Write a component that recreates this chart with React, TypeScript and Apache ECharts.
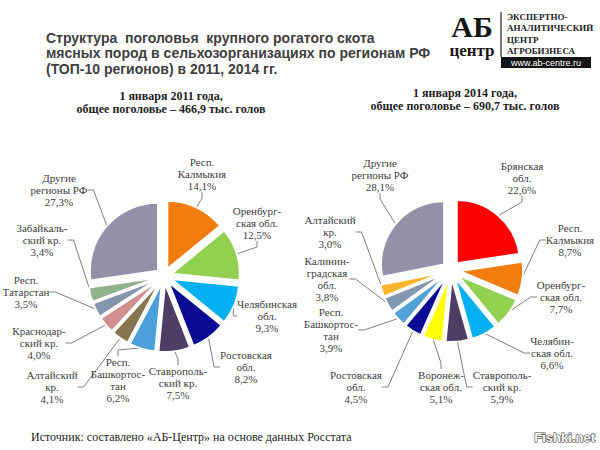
import React, { useEffect, useRef } from "react";
import * as echarts from "echarts";

// ---- Data ----
const leftNames = [
  "Респ.\nКалмыкия",
  "Оренбург-\nская обл.",
  "Челябинская\nобл.",
  "Ростовская\nобл.",
  "Ставрополь-\nский кр.",
  "Респ.\nБашкортос-\nтан",
  "Алтайский\nкр.",
  "Краснодар-\nский кр.",
  "Респ.\nТатарстан",
  "Забайкаль-\nский кр.",
  "Другие\nрегионы РФ",
];
const leftValues = [14.1, 12.5, 9.3, 8.2, 7.5, 6.2, 4.1, 4.0, 3.5, 3.4, 27.3];

const rightNames = [
  "Брянская\nобл.",
  "Респ.\nКалмыкия",
  "Оренбург-\nская обл.",
  "Челябин-\nская обл.",
  "Ставрополь-\nский кр.",
  "Воронеж-\nская обл.",
  "Ростовская\nобл.",
  "Респ.\nБашкортос-\nтан",
  "Калинин-\nградская\nобл.",
  "Алтайский\nкр.",
  "Другие\nрегионы РФ",
];
const rightValues = [22.6, 8.7, 7.7, 6.6, 5.9, 5.1, 4.5, 3.9, 3.8, 3.0, 28.1];

// ---- Styles ----
const leftColors = [
  "#F07D0E", "#92D050", "#00B0F0", "#0A0A94", "#4E3E66", "#4B9FDB",
  "#857650", "#D09090", "#8496AE", "#92B08C", "#958FA8",
];
const rightColors = [
  "#FF0000", "#F07D0E", "#92D050", "#00B0F0", "#4E3E66", "#FFFF00",
  "#0A0A94", "#54A3D8", "#8497B0", "#F8B52A", "#958FA8",
];

const leftLabelPos = [
  [202, 174], [257, 223], [267, 316], [246, 367], [178, 383], [118, 380],
  [52, 387], [39, 343], [26, 292], [42, 240], [59, 190],
];
const rightLabelPos = [
  [522, 178], [570, 240], [561, 297], [552, 353], [502, 387], [441, 387],
  [356, 387], [331, 330], [327, 279], [330, 232], [380, 175],
];

const SERIF = '"Liberation Serif", "Times New Roman", serif';
const SANS = '"Liberation Sans", Arial, sans-serif';

function fmt(v: number) {
  return v.toFixed(1).replace(".", ",") + "%";
}

function makePie(
  names: string[],
  values: number[],
  colors: string[],
  center: number[],
  radius: number,
  offset: number
) {
  return {
    type: "pie",
    center,
    radius,
    startAngle: 90,
    clockwise: true,
    selectedMode: "multiple",
    selectedOffset: offset,
    silent: true,
    data: names.map((n, i) => ({
      name: n,
      value: values[i],
      selected: true,
      itemStyle: { color: colors[i] },
    })),
    itemStyle: { borderColor: "#ffffff", borderWidth: 1.8 },
    select: { itemStyle: { borderColor: "#ffffff", borderWidth: 1.8 } },
    emphasis: { disabled: true },
    label: { show: false },
    labelLine: { show: false },
  };
}

function makeLabelPie(
  names: string[],
  values: number[],
  labelPos: number[][],
  center: number[],
  radius: number
) {
  return {
    type: "pie",
    center,
    radius,
    startAngle: 90,
    clockwise: true,
    silent: true,
    avoidLabelOverlap: false,
    data: names.map((n, i) => ({ name: n, value: values[i] })),
    itemStyle: { color: "rgba(0,0,0,0)", borderWidth: 0 },
    emphasis: { disabled: true },
    label: {
      show: true,
      formatter: (p: any) => `${p.name}\n${fmt(p.value)}`,
      fontFamily: SERIF,
      fontSize: 11,
      lineHeight: 12,
      color: "#404040",
      align: "center",
    },
    labelLine: {
      show: true,
      length: 8,
      length2: 6,
      lineStyle: { color: "#7f7f7f", width: 1 },
    },
    labelLayout: (p: any) => ({
      x: labelPos[p.dataIndex][0],
      y: labelPos[p.dataIndex][1],
      align: "center",
      verticalAlign: "middle",
    }),
  };
}

export default function App() {
  const ref = useRef<HTMLDivElement>(null);
  useEffect(() => {
    if (!ref.current) return;
    const chart = echarts.init(ref.current, null, { renderer: "svg" });
    chart.setOption({
      animation: false,
      backgroundColor: "#ffffff",
      graphic: [
        {
          type: "text",
          x: 46,
          y: 30,
          style: {
            text:
              "Структура  поголовья  крупного рогатого скота\nмясных пород в сельхозорганизациях по регионам РФ\n(ТОП-10 регионов) в 2011, 2014 гг.",
            font: `bold 14px ${SANS}`,
            fill: "#404040",
            lineHeight: 15.5,
            textVerticalAlign: "top",
          },
        },
        {
          type: "text",
          x: 171,
          y: 90,
          style: {
            text: "1 января 2011 года,\nобщее поголовье – 466,9 тыс. голов",
            font: `bold 12px ${SERIF}`,
            fill: "#1e1e1e",
            lineHeight: 12.5,
            textAlign: "center",
            textVerticalAlign: "top",
          },
        },
        {
          type: "text",
          x: 465,
          y: 87,
          style: {
            text: "1 января 2014 года,\nобщее поголовье – 690,7 тыс. голов",
            font: `bold 12px ${SERIF}`,
            fill: "#1e1e1e",
            lineHeight: 12.5,
            textAlign: "center",
            textVerticalAlign: "top",
          },
        },
        // logo
        {
          type: "text",
          x: 472,
          y: 26,
          style: {
            text: "АБ",
            font: `bold 30px ${SERIF}`,
            fill: "#151515",
            textAlign: "center",
            textVerticalAlign: "middle",
          },
        },
        {
          type: "text",
          x: 472,
          y: 50,
          style: {
            text: "центр",
            font: `bold 17px ${SERIF}`,
            fill: "#151515",
            textAlign: "center",
            textVerticalAlign: "middle",
          },
        },
        {
          type: "line",
          shape: { x1: 501, y1: 12, x2: 501, y2: 57 },
          style: { stroke: "#222", lineWidth: 1.2 },
        },
        {
          type: "text",
          x: 507,
          y: 11.5,
          style: {
            text: "ЭКСПЕРТНО-\nАНАЛИТИЧЕСКИЙ\nЦЕНТР\nАГРОБИЗНЕСА",
            font: `bold 9px ${SERIF}`,
            fill: "#222",
            lineHeight: 11.3,
            textVerticalAlign: "top",
          },
        },
        {
          type: "rect",
          shape: { x: 501, y: 57, width: 90, height: 11 },
          style: { fill: "#151515" },
        },
        {
          type: "text",
          x: 546,
          y: 62.5,
          style: {
            text: "www.ab-centre.ru",
            font: `9px ${SANS}`,
            fill: "#ffffff",
            textAlign: "center",
            textVerticalAlign: "middle",
          },
        },
        {
          type: "text",
          x: 31,
          y: 437,
          style: {
            text: "Источник: составлено «АБ-Центр» на основе данных Росстата",
            font: `12px ${SERIF}`,
            fill: "#222",
            textVerticalAlign: "middle",
          },
        },
        {
          type: "text",
          x: 595,
          y: 437,
          style: {
            text: "Fishki.net",
            font: `bold 13px ${SANS}`,
            fill: "#ffffff",
            stroke: "#444",
            lineWidth: 1.2,
            textAlign: "right",
            textVerticalAlign: "middle",
          },
        },
      ],
      series: [
        makePie(leftNames, leftValues, leftColors, [164, 276], 68, 8),
        makePie(rightNames, rightValues, rightColors, [451, 270], 63, 9),
        makeLabelPie(leftNames, leftValues, leftLabelPos, [164, 276], 75),
        makeLabelPie(rightNames, rightValues, rightLabelPos, [451, 270], 71),
      ],
    });
    return () => chart.dispose();
  }, []);
  return (
    <div
      ref={ref}
      style={{ position: "fixed", left: 0, top: 0, width: 600, height: 450 }}
    />
  );
}
